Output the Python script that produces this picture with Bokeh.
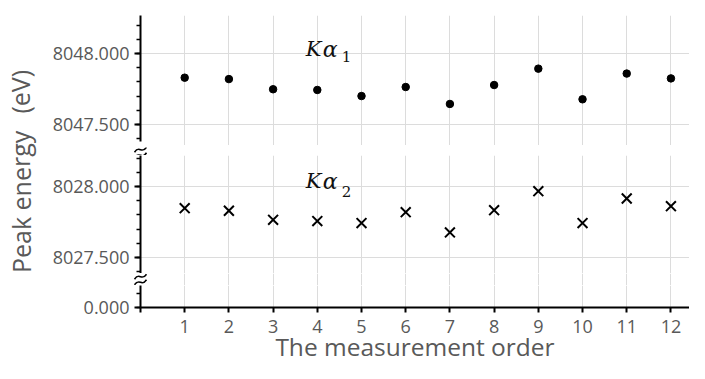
from bokeh.plotting import figure
from bokeh.layouts import row, column
from bokeh.models import (Range1d, FixedTicker, SingleIntervalTicker, Label,
                          PrintfTickFormatter)
from bokeh.embed import file_html
from bokeh.resources import INLINE

# ---- data -------------------------------------------------------------
order = list(range(1, 13))
ka1 = [8047.830, 8047.820, 8047.748, 8047.743, 8047.700, 8047.764,
       8047.644, 8047.778, 8047.894, 8047.677, 8047.859, 8047.825]
ka2 = [8027.847, 8027.829, 8027.765, 8027.756, 8027.742, 8027.819,
       8027.676, 8027.833, 8027.967, 8027.742, 8027.915, 8027.861]
x_ticks = list(range(0, 13))
x_tick_labels = {0: ""}
y_label = "Peak energy\u00a0\u00a0\u2009(eV)"
x_label = "The measurement order"
ka_main = ("K", "\u03b1")
ka1_sub = "1"
ka2_sub = "2"

top_range = (8047.35, 8048.27)
top_axis_bounds = (8047.378, 8049.0)
mid_range = (8027.387, 8028.218)
bot_range = (0.0, 0.155)
x_range = (0.0, 12.42)

# ---- style ------------------------------------------------------------
FONT = "Open Sans"
MATH = "DejaVu Serif"
GRAY = "#595959"
GRID = "#dcdcdc"
FRAME_W = 549
LEFT = 92
SCALE = FRAME_W / (x_range[1] - x_range[0])   # px per x unit

xr = Range1d(*x_range)


def make_fig(yr, frame_h, b_top, with_xaxis, bounds=None):
    p = figure(x_range=xr, y_range=Range1d(*yr), frame_width=FRAME_W,
               frame_height=frame_h, output_backend="svg",
               toolbar_location=None, tools="",
               x_axis_location="below" if with_xaxis else None,
               min_border_left=LEFT, min_border_right=0,
               min_border_top=b_top, min_border_bottom=0)
    p.outline_line_color = None
    p.background_fill_color = "white"
    p.border_fill_color = "white"
    ya = p.yaxis[0]
    ya.ticker = SingleIntervalTicker(interval=0.5, num_minor_ticks=5)
    ya.formatter = PrintfTickFormatter(format="%.3f")
    if bounds is not None:
        ya.bounds = bounds
    ya.axis_line_color = "black"
    ya.axis_line_width = 2
    ya.major_tick_line_color = "black"
    ya.major_tick_line_width = 2
    ya.major_tick_out = 6
    ya.major_tick_in = 0
    ya.minor_tick_line_color = "black"
    ya.minor_tick_line_width = 1.5
    ya.minor_tick_out = 4
    ya.minor_tick_in = 0
    ya.major_label_standoff = 5
    ya.major_label_text_font = FONT
    ya.major_label_text_font_size = "18px"
    ya.major_label_text_color = GRAY
    p.ygrid.ticker = SingleIntervalTicker(interval=0.5)
    p.ygrid.grid_line_color = GRID
    p.ygrid.grid_line_width = 1
    p.xgrid.ticker = FixedTicker(ticks=x_ticks[1:])
    p.xgrid.grid_line_color = GRID
    p.xgrid.grid_line_width = 1
    return p


def squiggle(g, cy):
    # axis-break mark: two small tilde-like curls centred on the y axis line
    k = 1.0 / SCALE
    for dy in (2.8, -2.8):
        y = cy + dy
        g.bezier(x0=[-6 * k], y0=[y - 2.5], x1=[6 * k], y1=[y + 2.5],
                 cx0=[-1 * k], cy0=[y + 5], cx1=[1 * k], cy1=[y - 5],
                 line_color="black", line_width=1.6)


def gap_fig(h, with_grid):
    # thin strip between the axis segments; its frame spans the full width
    g = figure(x_range=Range1d(x_range[0] - LEFT / SCALE, x_range[1]),
               y_range=Range1d(0, h), frame_width=LEFT + FRAME_W,
               frame_height=h, output_backend="svg", toolbar_location=None,
               tools="", x_axis_location=None, y_axis_location=None,
               min_border=0, frame_align=False)
    g.outline_line_color = None
    g.background_fill_color = "white"
    g.border_fill_color = "white"
    g.ygrid.visible = False
    if with_grid:
        g.xgrid.ticker = FixedTicker(ticks=x_ticks[1:])
        g.xgrid.grid_line_color = GRID
        g.xgrid.grid_line_width = 1
    else:
        g.xgrid.visible = False
    squiggle(g, h / 2.0)
    return g


top = make_fig(top_range, 130, 15, False, bounds=top_axis_bounds)
gap1 = gap_fig(10, False)
mid = make_fig(mid_range, 118, 0, False)
gap2 = gap_fig(12, True)
bot = make_fig(bot_range, 22, 0, True)

xa = bot.xaxis[0]
xa.ticker = FixedTicker(ticks=x_ticks)
xa.major_label_overrides = x_tick_labels
xa.axis_line_color = "black"
xa.axis_line_width = 2
xa.major_tick_line_color = "black"
xa.major_tick_line_width = 2
xa.major_tick_out = 5
xa.major_tick_in = 0
xa.minor_tick_out = 0
xa.minor_tick_in = 0
xa.major_label_standoff = 7
xa.major_label_text_font = FONT
xa.major_label_text_font_size = "18px"
xa.major_label_text_color = GRAY
xa.axis_label = x_label
xa.axis_label_standoff = -6
xa.axis_label_text_font = FONT
xa.axis_label_text_font_size = "24.5px"
xa.axis_label_text_font_style = "normal"
xa.axis_label_text_color = GRAY

# ---- data marks -------------------------------------------------------
top.scatter(order, ka1, marker="circle", size=7.5, color="black")
mid.scatter(order, ka2, marker="x", size=14, line_color="black", line_width=2)


# ---- series labels ----------------------------------------------------
def series_label(p, x, y, sub, sub_drop):
    lift = 6
    p.add_layout(Label(x=x, y=y, y_offset=lift, text=ka_main[0], text_font=MATH,
                       text_font_style="italic", text_font_size="21px",
                       text_color="#111111", text_baseline="alphabetic"))
    p.add_layout(Label(x=x, y=y, x_offset=17, y_offset=lift, text=ka_main[1],
                       text_font=MATH, text_font_style="italic",
                       text_font_size="22px", text_color="#111111",
                       text_baseline="alphabetic"))
    p.add_layout(Label(x=x, y=y, x_offset=36, y_offset=lift - sub_drop, text=sub,
                       text_font=MATH, text_font_size="15px",
                       text_color="#111111", text_baseline="alphabetic"))


series_label(top, 3.74, 8047.988, ka1_sub, 7)
series_label(mid, 3.74, 8027.993, ka2_sub, 10)

# ---- y label figure ---------------------------------------------------
TOTAL_H = 362
lab = figure(width=48, height=TOTAL_H, x_range=Range1d(0, 48),
             y_range=Range1d(0, TOTAL_H), output_backend="svg",
             toolbar_location=None, tools="", x_axis_location=None,
             y_axis_location=None, min_border=0, frame_align=False)
lab.outline_line_color = None
lab.xgrid.visible = False
lab.ygrid.visible = False
lab.add_layout(Label(x=20, y=TOTAL_H - 171, text=y_label, angle=1.5708,
                     text_align="center", text_baseline="alphabetic",
                     text_font=FONT, text_font_size="25px", text_color=GRAY))

layout = row(lab, column(top, gap1, mid, gap2, bot, spacing=0), spacing=0)

open("out.html", "w").write(file_html(layout, INLINE))
